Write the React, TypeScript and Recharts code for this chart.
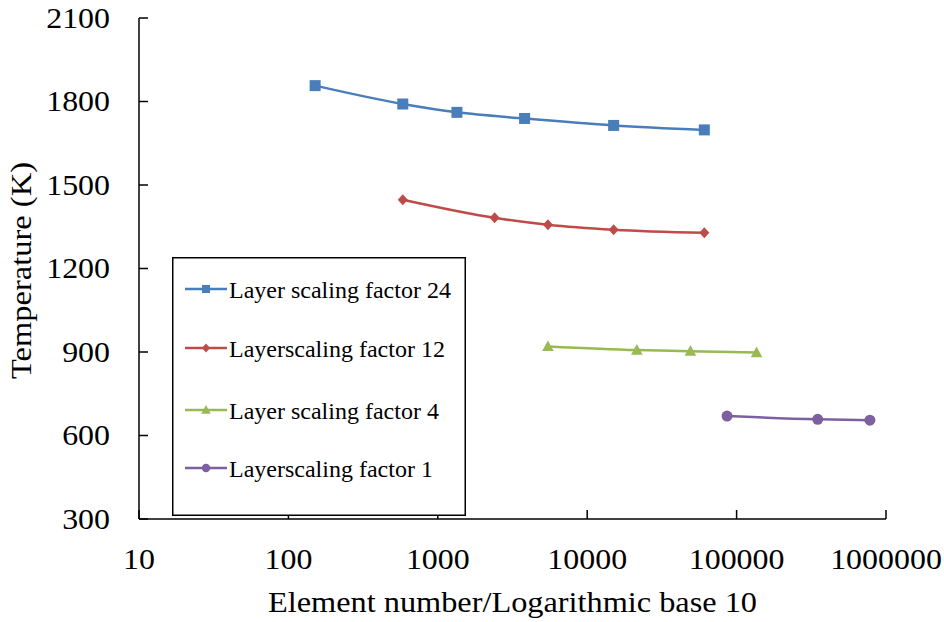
import React from 'react';
import { LineChart, Line, XAxis, YAxis } from 'recharts';

const xTicks = [10, 100, 1000, 10000, 100000, 1000000];
const yTicks = [300, 600, 900, 1200, 1500, 1800, 2100];

const seriesNames = [
  'Layer scaling factor 24',
  'Layerscaling factor 12',
  'Layer scaling factor 4',
  'Layerscaling factor 1',
];
const seriesColors = ['#4A7EBB', '#BE4B48', '#98B954', '#7D60A0'];
const seriesShapes = ['square', 'diamond', 'triangle', 'circle'];

const sf24X = [151, 583, 1343, 3810, 15030, 60800];
const sf24Y = [1857, 1791, 1761, 1739, 1714, 1698];
const sf12X = [583, 2400, 5460, 15030, 60800];
const sf12Y = [1447, 1382, 1357, 1339, 1328];
const sf4X = [5460, 21500, 49100, 136000];
const sf4Y = [920, 907, 903, 898];
const sf1X = [86300, 349000, 780000];
const sf1Y = [670, 658, 655];

const zip = (xs: number[], ys: number[]) => xs.map((x, i) => ({ x, y: ys[i] }));
const seriesData = [zip(sf24X, sf24Y), zip(sf12X, sf12Y), zip(sf4X, sf4Y), zip(sf1X, sf1Y)];

const FONT = "'Liberation Serif', 'Times New Roman', serif";
const STRETCH = 1.12;

function Marker({ shape, cx, cy, color, size }: any) {
  const h = size / 2;
  if (shape === 'square') {
    return <rect x={cx - h} y={cy - h} width={size} height={size} fill={color} />;
  }
  if (shape === 'diamond') {
    return (
      <polygon
        points={`${cx},${cy - h * 1.1} ${cx + h},${cy} ${cx},${cy + h * 1.1} ${cx - h},${cy}`}
        fill={color}
      />
    );
  }
  if (shape === 'triangle') {
    return (
      <polygon
        points={`${cx},${cy - size * 0.55} ${cx + h * 1.05},${cy + size * 0.42} ${cx - h * 1.05},${cy + size * 0.42}`}
        fill={color}
      />
    );
  }
  return <circle cx={cx} cy={cy} r={h} fill={color} />;
}

const dotSizes = [11, 10, 11, 11];
const legendSizes = [8, 8, 9, 8.5];

const makeDot = (i: number) => (props: any) => {
  const { cx, cy, index } = props;
  if (cx == null || cy == null) return <g key={`d${i}-${index}`} />;
  return (
    <Marker
      key={`d${i}-${index}`}
      shape={seriesShapes[i]}
      cx={cx}
      cy={cy}
      color={seriesColors[i]}
      size={dotSizes[i]}
    />
  );
};

function LegendBox() {
  const rowY = [32, 91, 153, 211];
  return (
    <svg
      width={294}
      height={259}
      style={{ position: 'absolute', left: 172, top: 257, display: 'block' }}
    >
      <rect x={0.75} y={0.75} width={292.5} height={257.5} fill="#fff" stroke="#000" strokeWidth={1.5} />
      {seriesNames.map((name, i) => (
        <g key={name}>
          <line x1={13} x2={55} y1={rowY[i]} y2={rowY[i]} stroke={seriesColors[i]} strokeWidth={2.5} />
          <Marker shape={seriesShapes[i]} cx={34} cy={rowY[i]} color={seriesColors[i]} size={legendSizes[i]} />
          <text x={57} y={rowY[i] + 8.5} fontFamily={FONT} fontSize={24} fill="#000">
            {name}
          </text>
        </g>
      ))}
    </svg>
  );
}

const XTick = (props: any) => {
  const { x, y, payload } = props;
  return (
    <text
      transform={`translate(${x},${y}) scale(${STRETCH},1)`}
      x={0}
      y={0}
      dy="0.71em"
      textAnchor="middle"
      fontFamily={FONT}
      fontSize={28.5}
      fill="#000"
    >
      {payload.value}
    </text>
  );
};

const YTick = (props: any) => {
  const { x, y, payload } = props;
  return (
    <text
      transform={`translate(${x},${y}) scale(${STRETCH},1)`}
      x={0}
      y={0}
      dy="0.34em"
      textAnchor="end"
      fontFamily={FONT}
      fontSize={28.5}
      fill="#000"
    >
      {payload.value}
    </text>
  );
};

const yLabel = (props: any) => {
  const vb = props.viewBox || {};
  const cy = vb.y + vb.height / 2 + 2;
  const x = 31;
  return (
    <text
      x={x}
      y={cy}
      transform={`rotate(-90 ${x} ${cy})`}
      textAnchor="middle"
      fontFamily={FONT}
      fontSize={28.5}
      textLength={217}
      lengthAdjust="spacingAndGlyphs"
      fill="#000"
    >
      Temperature (K)
    </text>
  );
};

const xLabel = (props: any) => {
  const vb = props.viewBox || {};
  const cx = vb.x + vb.width / 2;
  return (
    <text
      x={cx}
      y={612}
      textAnchor="middle"
      fontFamily={FONT}
      fontSize={28.5}
      textLength={489}
      lengthAdjust="spacingAndGlyphs"
      fill="#000"
    >
      Element number/Logarithmic base 10
    </text>
  );
};

export default function App() {
  return (
    <div style={{ width: 944, height: 622, background: '#fff', position: 'relative' }}>
      <style>{'body{margin:0;}'}</style>
      <LineChart width={944} height={622} margin={{ top: 18, right: 58, bottom: 0, left: 0 }}>
        <XAxis
          dataKey="x"
          type="number"
          scale="log"
          domain={[10, 1000000]}
          ticks={xTicks}
          interval={0}
          allowDataOverflow
          height={103}
          tickSize={-9}
          tickMargin={39}
          axisLine={{ stroke: '#000', strokeWidth: 1.5 }}
          tickLine={{ stroke: '#000', strokeWidth: 1.5 }}
          tick={XTick}
          label={xLabel}
        />
        <YAxis
          type="number"
          domain={[300, 2100]}
          ticks={yTicks}
          interval={0}
          width={139}
          tickSize={-9}
          tickMargin={38}
          axisLine={{ stroke: '#000', strokeWidth: 1.5 }}
          tickLine={{ stroke: '#000', strokeWidth: 1.5 }}
          tick={YTick}
          label={yLabel}
        />
        {seriesData.map((d, i) => (
          <Line
            key={seriesNames[i]}
            data={d}
            dataKey="y"
            name={seriesNames[i]}
            type="monotone"
            stroke={seriesColors[i]}
            strokeWidth={2.5}
            dot={makeDot(i)}
            activeDot={false}
            isAnimationActive={false}
          />
        ))}
      </LineChart>
      <LegendBox />
    </div>
  );
}
